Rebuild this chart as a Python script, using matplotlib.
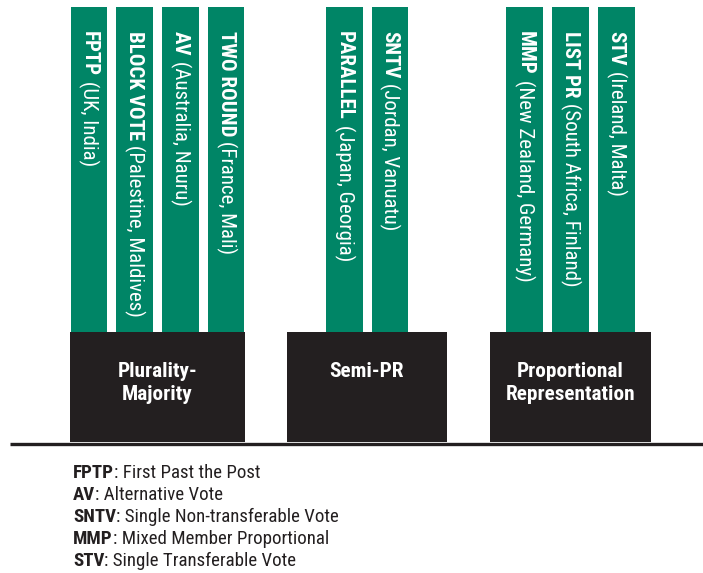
import matplotlib.pyplot as plt

# electoral system families and their members
families = ["Plurality-\nMajority", "Semi-PR", "Proportional\nRepresentation"]
systems = [
    ["FPTP", "BLOCK VOTE", "AV", "TWO ROUND"],
    ["PARALLEL", "SNTV"],
    ["MMP", "LIST PR", "STV"],
]
examples = [
    ["(UK, India)", "(Palestine, Maldives)", "(Australia, Nauru)", "(France, Mali)"],
    ["(Japan, Georgia)", "(Jordan, Vanuatu)"],
    ["(New Zealand, Germany)", "(South Africa, Finland)", "(Ireland, Malta)"],
]
abbrevs = ["FPTP", "AV", "SNTV", "MMP", "STV"]
meanings = [
    "First Past the Post",
    "Alternative Vote",
    "Single Non-transferable Vote",
    "Mixed Member Proportional",
    "Single Transferable Vote",
]

GREEN = "#008566"
DARK = "#231f20"
FONT = ["Roboto Condensed", "DejaVu Sans"]

# layout in pixel units
box_left = [70, 287, 490]
box_right = [245, 447, 651]
bar_w = 36.7
bar_gap = 9.0
bar_top, box_top, base_y = 7, 332, 442

fig = plt.figure(figsize=(7.03, 5.73), dpi=100)
ax = fig.add_axes([0, 0, 1, 1])
ax.set_xlim(0, 703)
ax.set_ylim(573, 0)
ax.axis("off")

for i, fam in enumerate(families):
    l, r = box_left[i], box_right[i]
    cx = (l + r) / 2
    n = len(systems[i])
    span = n * bar_w + (n - 1) * bar_gap
    xs = [cx - span / 2 + bar_w / 2 + k * (bar_w + bar_gap) for k in range(n)]
    ax.bar(xs, [box_top - bar_top] * n, width=bar_w, bottom=bar_top,
           color=GREEN, linewidth=0)
    ax.bar(cx, base_y - box_top, width=r - l, bottom=box_top, color=DARK,
           linewidth=0)
    ax.text(cx, 362, fam, ha="center", va="top", color="white",
            fontweight="bold", fontsize=15.3, family=FONT, linespacing=1.3)
    for x, name, ex in zip(xs, systems[i], examples[i]):
        t = ax.text(x, 31, name, rotation=270, ha="center", va="top",
                    color="white", fontweight="bold", fontsize=15, family=FONT)
        ax.annotate(" " + ex, xy=(0.5, 0), xycoords=t, rotation=270,
                    ha="center", va="top", color="white", fontsize=15,
                    family=FONT)

ax.plot([10, 703], [base_y + 1.5, base_y + 1.5], color=DARK, lw=2.4,
        solid_capstyle="butt")

# key below the chart
for j, (a, m) in enumerate(zip(abbrevs, meanings)):
    y = 478 + j * 21.9
    t = ax.text(73, y, a, ha="left", va="baseline", color=DARK,
                fontweight="bold", fontsize=13.6, family=FONT)
    ax.annotate(": " + m, xy=(1, 0), xycoords=t, ha="left", va="bottom",
                color=DARK, fontsize=13.6, family=FONT)

fig.savefig("out.png", dpi=100)
